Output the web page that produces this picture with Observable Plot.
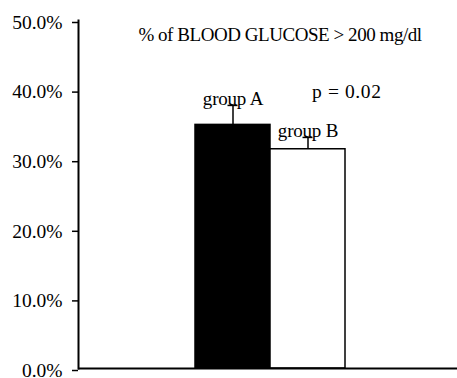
<!DOCTYPE html>
<html>
<head>
<meta charset="utf-8">
<script src="https://cdn.jsdelivr.net/npm/d3@7"></script>
<script src="https://cdn.jsdelivr.net/npm/@observablehq/plot@0.6"></script>
<style>
  html, body { margin: 0; padding: 0; background: #fff; }
  svg, svg text { font-family: "Liberation Serif", "Times New Roman", serif; }
  .ttl text { letter-spacing: -0.45px; }
  .grp text { letter-spacing: -0.2px; }
  .pval text { letter-spacing: 0.6px; }
</style>
</head>
<body>
<div id="chart"></div>
<script>
const groups = ["group A", "group B"];
const values = [0.35, 0.315];
const errors = [0.028, 0.017];
const yTicks = [0, 0.1, 0.2, 0.3, 0.4, 0.5];
const title = "% of BLOOD GLUCOSE > 200 mg/dl";
const pText = "p = 0.02";

const serif = "Liberation Serif";
const data = groups.map((g, i) => ({group: g, value: values[i], top: values[i] + errors[i]}));

const chart = Plot.plot({
  width: 457,
  height: 378,
  marginLeft: 78,
  marginRight: 0,
  marginTop: 20,
  marginBottom: 10,
  style: {fontFamily: serif, color: "black", background: "white", overflow: "visible"},
  x: {type: "band", domain: groups, paddingInner: 0, paddingOuter: 1.51, align: 0.51, axis: null},
  y: {domain: [0, 0.5]},
  color: {domain: groups, range: ["black", "white"]},
  marks: [
    Plot.barY(data, {x: "group", y: "value", fill: "group", stroke: "black", strokeWidth: 1.5}),
    Plot.ruleX(data, {x: "group", y1: "value", y2: "top", stroke: "black", strokeWidth: 1.5}),
    Plot.tickY(data, {x: "group", y: "top", stroke: "black", strokeWidth: 1.5, insetLeft: 32.5, insetRight: 32.5}),
    Plot.text(data, {x: "group", y: "top", text: "group", lineAnchor: "bottom", dy: 0, fontSize: 19, fontFamily: serif, fill: "black", className: "grp"}),
    Plot.axisY({ticks: yTicks, tickFormat: d3.format(".1%"), tickSize: 6, tickPadding: 10, fontSize: 19.5, fontFamily: serif, strokeWidth: 1.5, dy: 2}),
    Plot.frame({anchor: "left", strokeWidth: 2}),
    Plot.ruleY([0], {strokeWidth: 2}),
    Plot.text([title], {frameAnchor: "top", dx: 12, dy: 7, lineAnchor: "top", fontSize: 19, fontFamily: serif, fill: "black", className: "ttl"}),
    Plot.text([pText], {frameAnchor: "top-right", textAnchor: "end", lineAnchor: "bottom", dx: -76, dy: 77, fontSize: 19.5, fontFamily: serif, fill: "black", className: "pval"})
  ]
});
document.getElementById("chart").appendChild(chart);
</script>
</body>
</html>
